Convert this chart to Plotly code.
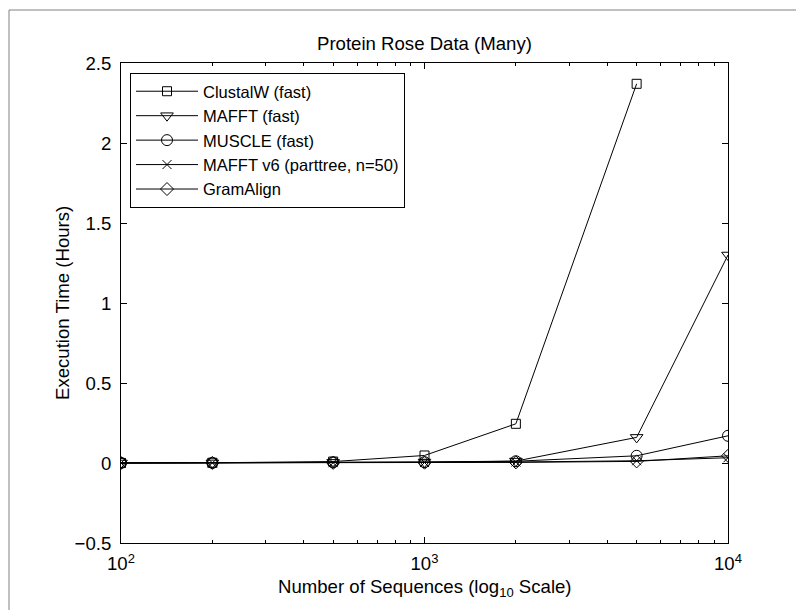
import plotly.graph_objects as go

x_all = [100, 200, 500, 1000, 2000, 5000, 10000]
x_clustal = [100, 200, 500, 1000, 2000, 5000]

clustalw = [0.0003, 0.0015, 0.009, 0.047, 0.245, 2.37]
mafft_fast = [0.0002, 0.0008, 0.004, 0.006, 0.012, 0.16, 1.30]
muscle_fast = [0.0003, 0.001, 0.004, 0.005, 0.011, 0.045, 0.17]
mafft_v6 = [0.0001, 0.0005, 0.002, 0.003, 0.006, 0.014, 0.033]
gramalign = [0.0001, 0.0004, 0.001, 0.002, 0.004, 0.010, 0.045]

names = ["ClustalW (fast)", "MAFFT (fast)", "MUSCLE (fast)",
         "MAFFT v6 (parttree, n=50)", "GramAlign"]
xs = [x_clustal, x_all, x_all, x_all, x_all]
ys = [clustalw, mafft_fast, muscle_fast, mafft_v6, gramalign]
symbols = ["square-open", "triangle-down-open", "circle-open", "x-thin-open", "diamond-open"]
sizes = [9, 11, 11, 9, 10]

y_tickvals = [-0.5, 0, 0.5, 1, 1.5, 2, 2.5]
y_ticktext = ["\u22120.5", "0", "0.5", "1", "1.5", "2", "2.5"]
x_tickvals = [100, 1000, 10000]
x_ticktext = ["10<sup>2</sup>", "10<sup>3</sup>", "10<sup>4</sup>"]
x_minor = [200, 300, 400, 500, 600, 700, 800, 900,
           2000, 3000, 4000, 5000, 6000, 7000, 8000, 9000]

FONT = "Liberation Sans, Arial, Helvetica, sans-serif"
FS = 18.6

fig = go.Figure()
for n, xv, yv, s, sz in zip(names, xs, ys, symbols, sizes):
    fig.add_trace(go.Scatter(
        x=xv, y=yv, name=n, mode="lines+markers",
        line=dict(color="black", width=1),
        marker=dict(symbol=s, size=sz, color="black",
                    line=dict(color="black", width=1)),
    ))

L, R, T, B = 121, 728, 63, 543
W, H = 796, 610
pw, ph = R - L, B - T

def px(xp):
    return (xp - L) / pw

def py(yp):
    return (B - yp) / ph

txt = dict(family=FONT, size=FS, color="black")

fig.update_layout(
    width=W, height=H,
    margin=dict(l=L, r=W - R, t=T, b=H - B, autoexpand=False),
    paper_bgcolor="white", plot_bgcolor="white",
    font=txt,
    showlegend=True,
    legend=dict(x=px(130), y=py(73), xanchor="left", yanchor="top",
                bordercolor="black", borderwidth=1, bgcolor="white",
                font=dict(family=FONT, size=16.5, color="black"),
                tracegroupgap=0, itemwidth=62),
    xaxis=dict(type="log", range=[2, 4], tickvals=x_tickvals, ticktext=x_ticktext,
               ticks="inside", ticklen=6, tickcolor="black", tickwidth=1,
               showline=True, linecolor="black", linewidth=1, mirror="allticks",
               showgrid=False, zeroline=False, ticklabelstandoff=4,
               minor=dict(tickvals=x_minor, ticks="inside", ticklen=3,
                          tickcolor="black", tickwidth=1, showgrid=False),
               tickfont=txt),
    yaxis=dict(range=[-0.5, 2.5], tickvals=y_tickvals, ticktext=y_ticktext,
               ticks="inside", ticklen=6, tickcolor="black", tickwidth=1,
               showline=True, linecolor="black", linewidth=1, mirror="allticks",
               showgrid=False, zeroline=False, ticklabelstandoff=5,
               tickfont=txt),
    annotations=[
        dict(text="Protein Rose Data (Many)", xref="paper", yref="paper",
             x=0.5, y=py(43.5), xanchor="center", yanchor="middle",
             showarrow=False, font=txt),
        dict(text="Number of Sequences (log<sub>10</sub> Scale)", xref="paper", yref="paper",
             x=0.5, y=py(588), xanchor="center", yanchor="middle",
             showarrow=False, font=txt),
        dict(text="Execution Time (Hours)", xref="paper", yref="paper",
             x=px(62), y=0.5, xanchor="center", yanchor="middle", textangle=-90,
             showarrow=False, font=txt),
    ],
    shapes=[dict(type="rect", xref="paper", yref="paper",
                 x0=px(9), x1=px(W + 20), y0=py(H + 20), y1=py(10),
                 line=dict(color="#808080", width=1), fillcolor="rgba(0,0,0,0)",
                 layer="below")],
)

fig.write_html("out.html")
